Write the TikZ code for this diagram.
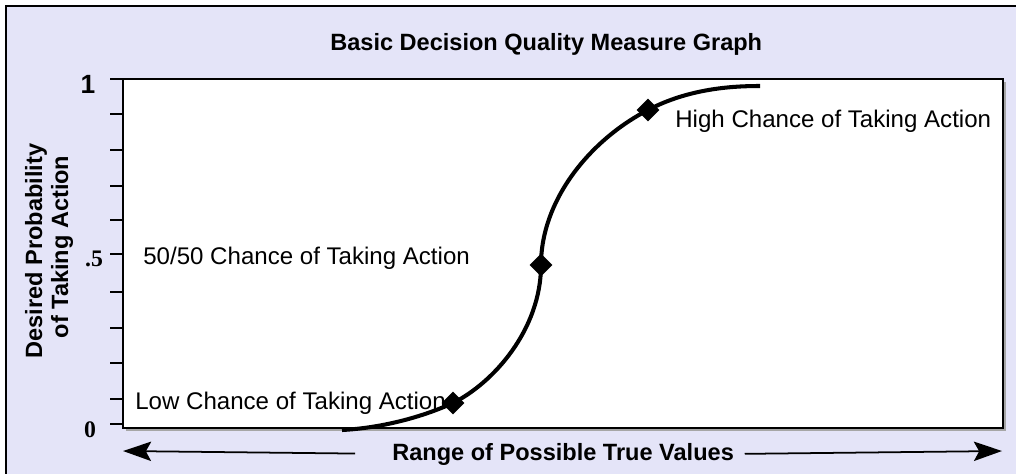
\documentclass[tikz,border=0pt]{standalone}
\usepackage{fontspec}
\setmainfont{Liberation Sans}
\newfontfamily\tickserif{Liberation Serif}
\usetikzlibrary{arrows.meta, shapes.geometric, calc}
\definecolor{panel}{RGB}{228,228,248}
\tikzset{
    >={Stealth[length=16pt, width=11pt, inset=3pt]},
    txt/.style={font=\fontsize{13.7}{16}\selectfont, inner sep=0pt},
    boldtxt/.style={txt, font=\fontsize{13.4}{16}\selectfont\bfseries},
    ticklabel/.style={font=\fontsize{13.5}{16}\selectfont\bfseries, inner sep=0pt, anchor=base},
    tick/.style={black, line width=1.1pt},
    plotbox/.style={draw=black, fill=white, line width=1.1pt},
    curve/.style={black, line width=2.3pt},
    marker/.style={shape=diamond, fill=black, minimum size=13pt, inner sep=0pt},
    axisarrow/.style={->, line width=1pt},
}
\begin{document}
\begin{tikzpicture}[x=0.02cm, y=-0.02cm]
    \useasboundingbox (0,0) rectangle (1016,473);
    \clip (0,0) rectangle (1016,473);
    \draw[fill=panel, line width=1.2pt] (6,6) rectangle (1040,500);
    \fill[gray!70] (126,82) rectangle (1006,431);
    \draw[plotbox] (123,79) rectangle (1003,428);
    \foreach \y in {79,114,150,186,220,254,292,328,363,399,424}
        \draw[tick] (110,\y) -- (123,\y);
    \node[ticklabel, font=\fontsize{15}{16}\selectfont\bfseries] (t1) at (88,93) {1};
    \node[ticklabel, font=\fontsize{13.5}{16}\selectfont\tickserif\bfseries] (t5) at (94,266) {.5};
    \node[ticklabel, font=\fontsize{13.5}{16}\selectfont\tickserif\bfseries] (t0) at (90,437) {0};
    \node[boldtxt, anchor=base west] (title) at (330,51) {Basic Decision Quality Measure Graph};
    \node[boldtxt, anchor=base, rotate=90] (ylab1) at (42,251) {Desired Probability};
    \node[boldtxt, anchor=base, rotate=90] (ylab2) at (68,247) {of Taking Action};
    \node[boldtxt, anchor=base west] (xlab) at (392,460) {Range of Possible True Values};
    \coordinate (xleft) at (123,451);
    \coordinate (xright) at (1002,451);
    \draw[axisarrow, shorten <=21pt] (xlab.west) -- (xleft);
    \draw[axisarrow, shorten <=6pt] (xlab.east) -- (xright);
    \node[marker] (low) at (453,403) {};
    \node[marker] (mid) at (541,265) {};
    \node[marker] (high) at (648,110) {};
    \coordinate (cstart) at (342,430);
    \coordinate (cend) at (760,86);
    \draw[curve] (cstart) .. controls (380,428) and (420,418) .. (low.center)
        .. controls (493,383) and (541,330) .. (mid.center)
        .. controls (541,200) and (590,140) .. (high.center)
        .. controls (688,89) and (730,86) .. (cend);
    \node[txt, anchor=base west] (lowtxt) at (135,409) {Low Chance of Taking Action};
    \node[txt, anchor=base west] (midtxt) at (143,264) {50/50 Chance of Taking Action};
    \node[txt, anchor=base west] (hightxt) at (675,127) {High Chance of Taking Action};
\end{tikzpicture}
\end{document}
